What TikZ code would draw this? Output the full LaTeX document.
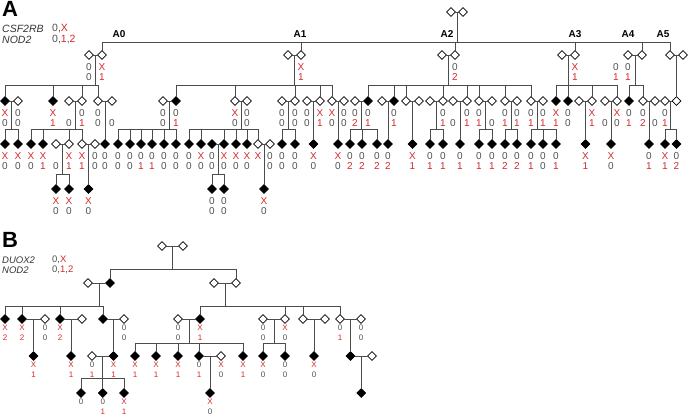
\documentclass[tikz,border=0pt]{standalone}
\usepackage{fontspec}
\setmainfont{Liberation Sans}
\usetikzlibrary{shapes.geometric,calc}
\definecolor{cred}{RGB}{215,40,40}
\definecolor{cgray}{RGB}{80,80,80}
\newcommand\gtxt[1]{\ifx\relax#1\relax\else\ifx0#1\textcolor{cgray}{0}\else\textcolor{cred}{#1}\fi\fi}
\newcommand\pA[6]{\node[#4] (#1) at (#2,#3) {};
  \node[gt] (#1x) at (#2,#3+12) {\gtxt{#5}};
  \node[gt] (#1y) at (#2,#3+22) {\gtxt{#6}};}
\newcommand\pB[6]{\node[#4] (#1) at (#2,#3) {};
  \node[gtb] (#1x) at (#2,#3+8.5) {\gtxt{#5}};
  \node[gtb] (#1y) at (#2,#3+18.5) {\gtxt{#6}};}
\newcommand\onekid[3]{\draw[pl] (#1) -- (#2);
  \draw[pl] ($(#1)!.5!(#2)$) -- (#3);}
\newcommand\sibs[6]{\draw[pl] (#1) -- (#2);
  \path ($(#1)!.5!(#2)$) coordinate (#1#2);
  \draw[pl] (#1#2) -- (#1#2 |- #3);
  \draw[pl] (#4 |- #3) -- (#5 |- #3);
  \foreach \k in {#6} {\draw[pl] (\k |- #3) -- (\k);}}
\tikzset{
  pl/.style={draw=black!70, line width=1pt, line cap=rect},
  op/.style={diamond, draw=black, fill=white, line width=0.8pt, minimum size=9pt, inner sep=0pt},
  fd/.style={diamond, draw=black, fill=black, line width=0.8pt, minimum size=9pt, inner sep=0pt},
  gt/.style={inner sep=0pt, font=\fontsize{10}{12}\selectfont},
  gtb/.style={inner sep=0pt, font=\fontsize{8}{9}\selectfont},
  gen/.style={inner sep=0pt, font=\bfseries\fontsize{10}{12}\selectfont},
  hd/.style={inner sep=0pt, anchor=west, text=black!80},
  ttl/.style={inner sep=0pt, font=\bfseries\fontsize{22}{22}\selectfont}
}
\begin{document}
\begin{tikzpicture}[x=1pt,y=-1pt]
\useasboundingbox (0,0) rectangle (690,416);
\node[ttl] (titA) at (10,9) {A};
\node[hd, font=\itshape\fontsize{10.5}{12}\selectfont] (hA1) at (2,29) {CSF2RB};
\node[hd, font=\fontsize{10.5}{12}\selectfont] (vA1) at (52,29) {\textcolor{cgray}{0,}\textcolor{cred}{X}};
\node[hd, font=\itshape\fontsize{10.5}{12}\selectfont] (hA2) at (2,40) {NOD2};
\node[hd, font=\fontsize{10.5}{12}\selectfont] (vA2) at (52,40) {\textcolor{cgray}{0,}\textcolor{cred}{1}\textcolor{cgray}{,}\textcolor{cred}{2}};
\node[ttl] (titB) at (10,240) {B};
\node[hd, font=\itshape\fontsize{9.5}{11}\selectfont] (hB1) at (2,260) {DUOX2};
\node[hd, font=\fontsize{9.5}{11}\selectfont] (vB1) at (52,260) {\textcolor{cgray}{0,}\textcolor{cred}{X}};
\node[hd, font=\itshape\fontsize{9.5}{11}\selectfont] (hB2) at (2,270) {NOD2};
\node[hd, font=\fontsize{9.5}{11}\selectfont] (vB2) at (52,270) {\textcolor{cgray}{0,}\textcolor{cred}{1}\textcolor{cgray}{,}\textcolor{cred}{2}};
\coordinate (lvA1) at (0,42);
\coordinate (lvA2) at (0,85);
\coordinate (lvA3) at (0,129);
\coordinate (lvA4) at (0,174);
\coordinate (lvB1) at (0,269);
\coordinate (lvB2) at (0,306);
\coordinate (lvB3) at (0,343);
\coordinate (lvB4) at (0,378);
\node[gen] (tA0) at (119,34) {A0};
\node[gen] (tA1) at (300,34) {A1};
\node[gen] (tA2) at (447,34) {A2};
\node[gen] (tA3) at (575,34) {A3};
\node[gen] (tA4) at (628,34) {A4};
\node[gen] (tA5) at (663,34) {A5};
\pA{fa}{451}{12}{op}{}{}
\pA{fb}{463}{12}{op}{}{}
\pA{a0s}{89}{55}{op}{0}{0}
\pA{a0}{102}{55}{op}{X}{1}
\pA{a1s}{288}{55}{op}{}{}
\pA{a1}{301}{55}{op}{X}{1}
\pA{a2s}{442}{55}{op}{}{}
\pA{a2}{455}{55}{op}{0}{2}
\pA{a3s}{562}{55}{op}{}{}
\pA{a3}{575}{55}{op}{X}{1}
\pA{a4s}{628}{55}{op}{0}{1}
\pA{a4}{642}{55}{op}{}{}
\pA{a5}{670}{55}{op}{}{}
\pA{a5s}{683}{55}{op}{}{}
\node[gt] (a4ex) at (616,67) {\gtxt{0}};
\node[gt] (a4ey) at (616,77) {\gtxt{1}};
\pA{b1}{5}{101}{fd}{X}{0}
\pA{b1s}{18}{101}{op}{0}{0}
\pA{b2}{53}{101}{fd}{X}{1}
\pA{b3s}{69}{101}{op}{}{0}
\pA{b3}{82}{101}{op}{0}{1}
\pA{b4}{98}{101}{op}{0}{0}
\pA{b4s}{112}{101}{op}{}{0}
\pA{e1s}{163}{101}{op}{0}{0}
\pA{e1}{176}{101}{fd}{0}{1}
\pA{e2}{235}{101}{op}{X}{0}
\pA{e2s}{247}{101}{op}{0}{0}
\pA{e3s}{282}{101}{op}{0}{0}
\pA{e3}{295}{101}{op}{0}{0}
\pA{e4s}{307}{101}{op}{0}{0}
\pA{e4}{320}{101}{op}{X}{1}
\pA{e5}{332}{101}{op}{X}{0}
\pA{e5s}{344}{101}{op}{0}{0}
\pA{j1s}{355}{101}{op}{0}{2}
\pA{j1}{368}{101}{fd}{0}{1}
\pA{j2s}{382}{101}{op}{}{}
\pA{j2}{394}{101}{fd}{0}{1}
\pA{j3}{406}{101}{op}{}{}
\pA{j3s}{419}{101}{op}{}{}
\pA{j4s}{430}{101}{op}{}{}
\pA{j4}{443}{101}{op}{0}{1}
\pA{j5s}{453}{101}{op}{}{0}
\pA{j5}{467}{101}{op}{0}{1}
\pA{j6}{479}{101}{op}{0}{1}
\pA{j6s}{492}{101}{op}{}{0}
\pA{j7}{505}{101}{op}{0}{1}
\pA{j7s}{517}{101}{op}{0}{1}
\pA{j8}{531}{101}{op}{0}{1}
\pA{j8s}{543}{101}{op}{0}{1}
\pA{l1}{556}{101}{fd}{X}{1}
\pA{l2}{568}{101}{fd}{0}{0}
\pA{l3s}{579}{101}{op}{}{}
\pA{l3}{592}{101}{op}{X}{1}
\pA{l4s}{605}{101}{op}{}{0}
\pA{l4}{617}{101}{op}{X}{0}
\pA{n1}{629}{101}{fd}{0}{1}
\pA{n2}{643}{101}{op}{0}{2}
\pA{n2s}{655}{101}{op}{}{0}
\pA{p1s}{665}{101}{op}{0}{1}
\pA{p1}{676.5}{101}{op}{}{}
\pA{c1}{5}{144}{fd}{X}{0}
\pA{c2}{18}{144}{fd}{X}{0}
\pA{c3}{31}{144}{fd}{X}{0}
\pA{c4}{43}{144}{fd}{X}{1}
\pA{c5s}{56}{144}{op}{}{0}
\pA{c5}{69}{144}{op}{X}{1}
\pA{c6}{82}{144}{op}{X}{1}
\pA{c6s}{95}{144}{op}{0}{0}
\pA{c7}{105}{144}{fd}{0}{0}
\pA{f1}{118}{144}{fd}{0}{0}
\pA{f2}{130}{144}{fd}{0}{0}
\pA{f3}{141}{144}{fd}{0}{1}
\pA{f4}{152}{144}{fd}{0}{1}
\pA{f5}{164}{144}{fd}{0}{0}
\pA{f6}{176}{144}{fd}{0}{0}
\pA{g1}{189}{144}{fd}{0}{0}
\pA{g2}{201}{144}{fd}{X}{0}
\pA{g3s}{212}{144}{fd}{0}{0}
\pA{g3}{224}{144}{fd}{X}{0}
\pA{g4}{236}{144}{fd}{X}{0}
\pA{g5}{247}{144}{fd}{X}{0}
\pA{g6}{258}{144}{op}{X}{}
\pA{g6s}{270}{144}{op}{0}{0}
\pA{i1}{282}{144}{fd}{0}{0}
\pA{i2}{295}{144}{fd}{0}{0}
\pA{i3}{313.5}{144}{fd}{X}{0}
\pA{i4}{338}{144}{fd}{X}{0}
\pA{k1}{350}{144}{fd}{0}{2}
\pA{k2}{362}{144}{fd}{0}{2}
\pA{k3}{377}{144}{fd}{0}{2}
\pA{k4}{388}{144}{fd}{0}{2}
\pA{k5}{412.5}{144}{fd}{X}{1}
\pA{k6}{430}{144}{fd}{0}{1}
\pA{k7}{443}{144}{fd}{0}{1}
\pA{k8}{460}{144}{fd}{0}{1}
\pA{k9}{479}{144}{fd}{0}{1}
\pA{k10}{492}{144}{fd}{0}{1}
\pA{k11}{505}{144}{fd}{0}{2}
\pA{k12}{517}{144}{fd}{0}{2}
\pA{k13}{531}{144}{fd}{0}{1}
\pA{k14}{543}{144}{fd}{0}{0}
\pA{k15}{556}{144}{fd}{0}{1}
\pA{m1}{585.5}{144}{fd}{X}{1}
\pA{m2}{611}{144}{fd}{X}{0}
\pA{o1}{649}{144}{fd}{0}{1}
\pA{q1}{665}{144}{fd}{X}{1}
\pA{q2}{676.5}{144}{fd}{0}{2}
\pA{d1}{56}{189}{fd}{X}{0}
\pA{d2}{69}{189}{fd}{X}{0}
\pA{d3}{88.5}{189}{fd}{X}{0}
\pA{h1}{212}{189}{fd}{0}{0}
\pA{h2}{224}{189}{fd}{0}{0}
\pA{h3}{264}{189}{fd}{X}{0}
\draw[pl] (fa) -- (fb);
\path ($(fa)!.5!(fb)$) coordinate (fafb);
\draw[pl] (fafb) -- (fafb |- lvA1);
\draw[pl] (a0 |- lvA1) -- (a5 |- lvA1);
\foreach \k in {a0,a1,a2,a3,a4,a5} {\draw[pl] (\k |- lvA1) -- (\k);}
\sibs{a0s}{a0}{lvA2}{b1}{b4}{b1,b2,b3,b4}
\sibs{b1}{b1s}{lvA3}{c1}{c2}{c1,c2}
\sibs{b3s}{b3}{lvA3}{c3}{c6}{c3,c4,c5,c6}
\onekid{b4}{b4s}{c7}
\sibs{c5s}{c5}{lvA4}{d1}{d2}{d1,d2}
\onekid{c6}{c6s}{d3}
\sibs{a1s}{a1}{lvA2}{e1}{e5}{e1,e2,e3,e4,e5}
\sibs{e1s}{e1}{lvA3}{f1}{f6}{f1,f2,f3,f4,f5,f6}
\sibs{e2}{e2s}{lvA3}{g1}{g6}{g1,g2,g3,g4,g5,g6}
\sibs{g3s}{g3}{lvA4}{h1}{h2}{h1,h2}
\onekid{g6}{g6s}{h3}
\sibs{e3s}{e3}{lvA3}{i1}{i2}{i1,i2}
\onekid{e4s}{e4}{i3}
\onekid{e5}{e5s}{i4}
\sibs{a2s}{a2}{lvA2}{j1}{j8}{j1,j2,j3,j4,j5,j6,j7,j8}
\sibs{j1s}{j1}{lvA3}{k1}{k3}{k1,k2,k3}
\onekid{j2s}{j2}{k4}
\onekid{j3}{j3s}{k5}
\sibs{j4s}{j4}{lvA3}{k6}{k7}{k6,k7}
\onekid{j5s}{j5}{k8}
\sibs{j6}{j6s}{lvA3}{k9}{k10}{k9,k10}
\sibs{j7}{j7s}{lvA3}{k11}{k12}{k11,k12}
\sibs{j8}{j8s}{lvA3}{k13}{k15}{k13,k14,k15}
\sibs{a3s}{a3}{lvA2}{l1}{l4}{l1,l2,l3,l4}
\onekid{l3s}{l3}{m1}
\onekid{l4s}{l4}{m2}
\sibs{a4s}{a4}{lvA2}{n1}{n2}{n1,n2}
\onekid{n2}{n2s}{o1}
\onekid{a5}{a5s}{p1}
\sibs{p1s}{p1}{lvA3}{q1}{q2}{q1,q2}
\pB{ga}{162}{246}{op}{}{}
\pB{gb}{183}{246}{op}{}{}
\pB{r1s}{88}{283}{op}{}{}
\pB{r1}{110}{283}{fd}{}{}
\pB{r2s}{214}{283}{op}{}{}
\pB{r2}{236}{283}{op}{}{}
\pB{s1}{5}{319}{fd}{X}{2}
\pB{s2}{22}{319}{fd}{X}{2}
\pB{s2s}{45}{319}{op}{0}{0}
\pB{s3}{60}{319}{fd}{X}{2}
\pB{s3s}{82}{319}{op}{}{}
\pB{s4}{103}{319}{fd}{}{}
\pB{s4s}{124}{319}{op}{0}{0}
\pB{s5s}{178}{319}{op}{0}{0}
\pB{s5}{200}{319}{fd}{X}{1}
\pB{s6s}{263}{319}{op}{0}{0}
\pB{s6}{285}{319}{op}{X}{0}
\pB{s7}{303}{319}{op}{}{}
\pB{s7s}{325}{319}{op}{}{}
\pB{s8}{340}{319}{op}{0}{1}
\pB{s8s}{361}{319}{op}{0}{0}
\pB{t1}{33.5}{356}{fd}{X}{1}
\pB{t2}{71}{356}{fd}{X}{1}
\pB{t3s}{92}{356}{op}{0}{1}
\pB{t3}{113.5}{356}{fd}{X}{1}
\pB{t4}{135}{356}{fd}{X}{1}
\pB{t5}{156}{356}{fd}{X}{1}
\pB{t6}{178}{356}{fd}{X}{1}
\pB{t7}{199}{356}{fd}{0}{1}
\pB{t7s}{221}{356}{op}{X}{0}
\pB{t8}{243}{356}{fd}{X}{1}
\pB{t9}{263}{356}{fd}{X}{0}
\pB{t10}{285}{356}{fd}{0}{0}
\pB{t11}{314}{356}{fd}{X}{0}
\pB{t12}{350.5}{356}{fd}{}{}
\pB{t12s}{372}{356}{op}{}{}
\pB{u1}{81}{393}{fd}{0}{}
\pB{u2}{102.75}{393}{fd}{0}{1}
\pB{u3}{124}{393}{fd}{X}{1}
\pB{u4}{210}{393}{fd}{X}{0}
\pB{u5}{361.25}{393}{fd}{}{}
\draw[pl] (ga) -- (gb);
\path ($(ga)!.5!(gb)$) coordinate (gagb);
\draw[pl] (gagb) -- (gagb |- lvB1);
\draw[pl] (r1 |- lvB1) -- (r2 |- lvB1);
\foreach \k in {r1,r2} {\draw[pl] (\k |- lvB1) -- (\k);}
\sibs{r1s}{r1}{lvB2}{s1}{s4}{s1,s2,s3,s4}
\onekid{s2}{s2s}{t1}
\onekid{s3}{s3s}{t2}
\onekid{s4}{s4s}{t3}
\sibs{t3s}{t3}{lvB4}{u1}{u3}{u1,u2,u3}
\sibs{r2s}{r2}{lvB2}{s5}{s8}{s5,s6,s7,s8}
\sibs{s5s}{s5}{lvB3}{t4}{t8}{t4,t5,t6,t7,t8}
\onekid{t7}{t7s}{u4}
\sibs{s6s}{s6}{lvB3}{t9}{t10}{t9,t10}
\onekid{s7}{s7s}{t11}
\onekid{s8}{s8s}{t12}
\onekid{t12}{t12s}{u5}
\end{tikzpicture}
\end{document}
